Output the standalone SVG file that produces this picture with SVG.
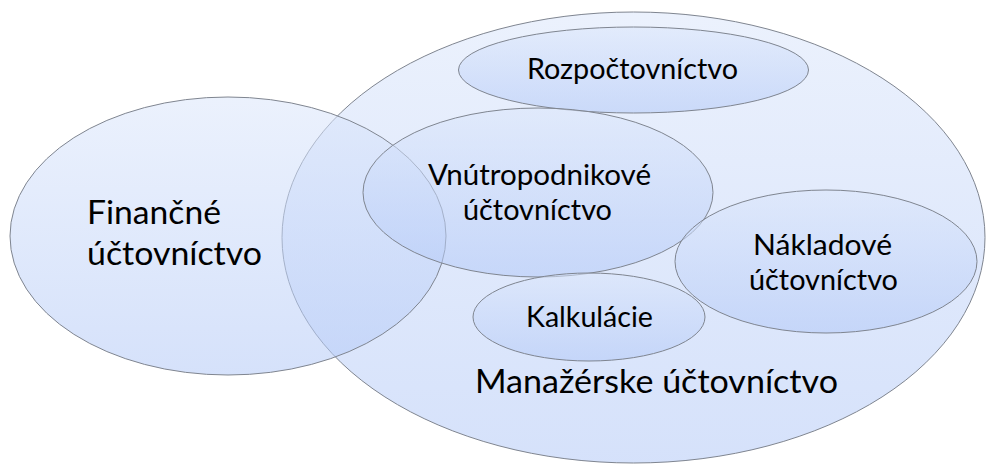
<svg xmlns="http://www.w3.org/2000/svg" width="987" height="465" viewBox="0 0 987 465">
  <defs>
    <linearGradient id="g" x1="0" y1="0" x2="0" y2="1">
      <stop offset="0" stop-color="#dbe6fb"/>
      <stop offset="1" stop-color="#b3c9f7"/>
    </linearGradient>
  </defs>
  <style>
    .e { fill: url(#g); fill-opacity: 0.55; stroke: #7f8590; stroke-width: 1; }
    .t { font-family: Lato, "Open Sans", "Liberation Sans", sans-serif; fill: #000; }
    .big { font-size: 32px; }
    .sm { font-size: 28px; }
    .c { text-anchor: middle; }
  </style>
  <rect width="987" height="465" fill="#ffffff"/>
  <g id="manazerske">
    <ellipse class="e" cx="633.5" cy="237.5" rx="351.5" ry="225.5"/>
    <text class="t big c" x="656.5" y="393" textLength="363" lengthAdjust="spacingAndGlyphs">Manažérske účtovníctvo</text>
  </g>
  <g id="financne">
    <ellipse class="e" cx="228" cy="236" rx="218" ry="139"/>
    <text class="t big" x="87" y="224" textLength="134" lengthAdjust="spacingAndGlyphs">Finančné</text>
    <text class="t big" x="87" y="265" textLength="175" lengthAdjust="spacingAndGlyphs">účtovníctvo</text>
  </g>
  <g id="rozpoctovnictvo">
    <ellipse class="e" cx="633.5" cy="70" rx="175" ry="43"/>
    <text class="t sm c" x="632.5" y="79" textLength="211" lengthAdjust="spacingAndGlyphs">Rozpočtovníctvo</text>
  </g>
  <g id="vnutropodnikove">
    <ellipse class="e" cx="538" cy="192.5" rx="175" ry="84.5"/>
    <text class="t sm c" x="539.5" y="185" textLength="223" lengthAdjust="spacingAndGlyphs">Vnútropodnikové</text>
    <text class="t sm c" x="537.5" y="220" textLength="149" lengthAdjust="spacingAndGlyphs">účtovníctvo</text>
  </g>
  <g id="nakladove">
    <ellipse class="e" cx="826" cy="261.5" rx="151" ry="71.5"/>
    <text class="t sm c" x="822.5" y="255" textLength="139" lengthAdjust="spacingAndGlyphs">Nákladové</text>
    <text class="t sm c" x="823.5" y="290" textLength="149" lengthAdjust="spacingAndGlyphs">účtovníctvo</text>
  </g>
  <g id="kalkulacie">
    <ellipse class="e" cx="589" cy="317" rx="116" ry="44"/>
    <text class="t sm c" x="589.5" y="327" textLength="127" lengthAdjust="spacingAndGlyphs">Kalkulácie</text>
  </g>
  <g id="connectors"/>
</svg>
